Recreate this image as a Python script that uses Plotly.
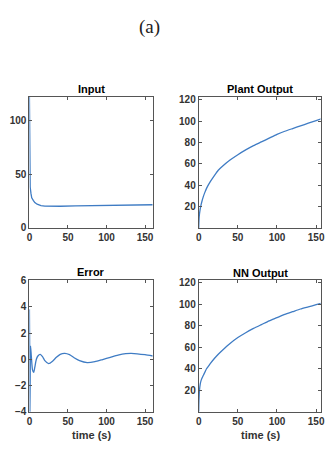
import plotly.graph_objects as go

# ---- data ----
input_t = [0, 0.3, 0.7, 1, 2, 3, 5, 7, 10, 15, 20, 30, 40, 60, 80, 100, 120, 140, 160]
input_v = [122, 70, 45, 38, 32, 28, 25.5, 23.5, 22, 20.7, 20.2, 20.0, 20.1, 20.4, 20.7, 21.0, 21.2, 21.4, 21.5]

plant_t = [0, 0.5, 1, 2, 3, 4, 6, 8, 10, 12.5, 15, 20, 25, 30, 40, 50, 60, 70, 80, 90, 100,
           110, 120, 130, 140, 150, 160]
plant_v = [0, 9, 13, 18, 21.5, 24.5, 29.5, 33.5, 37, 40.5, 43.5, 49, 54, 57.5, 63.5, 68.5, 73, 77, 80.5, 84, 87.5,
           90.5, 93, 95.5, 98, 100.5, 103]

error_t = [0, 0.3, 0.6, 1.0, 1.5, 2.5, 4, 5.5, 7, 9, 11, 14, 17, 20, 25, 30, 35, 40, 46,
           52, 58, 65, 75, 85, 95, 105, 115, 125, 132, 140, 150, 160]
error_v = [3.8, 1.2, -4, -1.5, 1.0, 0.2, -0.8, -1.0, -0.6, 0.0, 0.25, 0.37, 0.2, -0.1, -0.33, -0.15, 0.15, 0.38, 0.45,
           0.35, 0.12, -0.1, -0.25, -0.18, -0.02, 0.15, 0.32, 0.43, 0.45, 0.42, 0.35, 0.25]

nn_t = [0, 0.3, 1, 2, 3, 4, 6, 8, 10, 12.5, 15, 20, 25, 30, 40, 50, 60, 70, 80, 90, 100,
        110, 120, 130, 140, 150, 160]
nn_v = [0, 10, 20, 26, 29, 31, 34, 37, 40, 42.5, 45, 49.5, 53.5, 57, 63.5, 69, 73.5, 77.5, 81, 84.5, 87.5,
        90.5, 93, 95.5, 97.5, 99.5, 101.5]

titles = ["Input", "Plant Output", "Error", "NN Output"]
xlabel = "time (s)"
fig_label = "(a)"

LINE = "#3f7cc4"
AX = "#555555"
TXT = "#333333"

W, H = 326, 449

def px_x(a, b):
    return [a / W, b / W]

def px_y(top, bottom):
    return [1 - bottom / H, 1 - top / H]

fig = go.Figure()
series = [(input_t, input_v, "linear"), (plant_t, plant_v, "spline"),
          (error_t, error_v, "spline"), (nn_t, nn_v, "spline")]
axes_names = [("x", "y"), ("x2", "y2"), ("x3", "y3"), ("x4", "y4")]
for (t, v, shp), (xa, ya) in zip(series, axes_names):
    fig.add_trace(go.Scatter(x=t, y=v, mode="lines", xaxis=xa, yaxis=ya,
                             line=dict(color=LINE, width=1.3, shape=shp, smoothing=0.6),
                             showlegend=False, cliponaxis=True))

tickfont = dict(family="Liberation Sans, Arial", size=10, color=TXT, weight="bold")
common_x = dict(showline=True, mirror="ticks", linecolor=AX, linewidth=1, ticks="inside",
                ticklen=3, tickcolor=AX, showgrid=False, zeroline=False, tickfont=tickfont,
                tickvals=[0, 50, 100, 150], ticklabeloverflow="allow")
common_y = dict(showline=True, mirror="ticks", linecolor=AX, linewidth=1, ticks="inside",
                ticklen=3, tickcolor=AX, showgrid=False, zeroline=False, tickfont=tickfont)

left_dom = px_x(27, 153)
right_dom = px_x(200, 324.5)
top_dom = px_y(93, 228)
bot_dom = px_y(282, 417)

fig.update_layout(
    width=W, height=H, margin=dict(l=0, r=0, t=0, b=0),
    paper_bgcolor="white", plot_bgcolor="white",
    xaxis=dict(common_x, domain=left_dom, range=[0, 160], anchor="y"),
    yaxis=dict(common_y, domain=top_dom, range=[0, 122], tickvals=[0, 50, 100], anchor="x"),
    xaxis2=dict(common_x, domain=right_dom, range=[0, 155.6], anchor="y2"),
    yaxis2=dict(common_y, domain=top_dom, range=[0, 123], tickvals=[20, 40, 60, 80, 100, 120], anchor="x2"),
    xaxis3=dict(common_x, domain=left_dom, range=[0, 160], anchor="y3"),
    yaxis3=dict(common_y, domain=bot_dom, range=[-4, 6], tickvals=[-4, -2, 0, 2, 4, 6], anchor="x3"),
    xaxis4=dict(common_x, domain=right_dom, range=[0, 155.6], anchor="y4"),
    yaxis4=dict(common_y, domain=bot_dom, range=[0, 122], tickvals=[20, 40, 60, 80, 100, 120], anchor="x4"),
)

title_font = dict(family="Liberation Sans, Arial", size=11, color="black", weight="bold")
title_pos = [(90, 85), (263, 85), (90, 273), (263, 274)]
for txt, (cx, cy) in zip(titles, title_pos):
    fig.add_annotation(text=txt, x=cx / W, y=1 - cy / H, xref="paper", yref="paper",
                       showarrow=False, font=title_font, xanchor="center", yanchor="middle")

label_font = dict(family="Liberation Sans, Arial", size=11, color=TXT, weight="bold")
for cx in (90, 263):
    fig.add_annotation(text=xlabel, x=cx / W, y=1 - 441 / H, xref="paper", yref="paper",
                       showarrow=False, font=label_font, xanchor="center", yanchor="middle")

fig.add_annotation(text=fig_label, x=150 / W, y=1 - 22 / H, xref="paper", yref="paper",
                   showarrow=False, font=dict(family="Liberation Serif, DejaVu Serif", size=19, color="#222"),
                   xanchor="center", yanchor="middle")

fig.write_html("out.html")
